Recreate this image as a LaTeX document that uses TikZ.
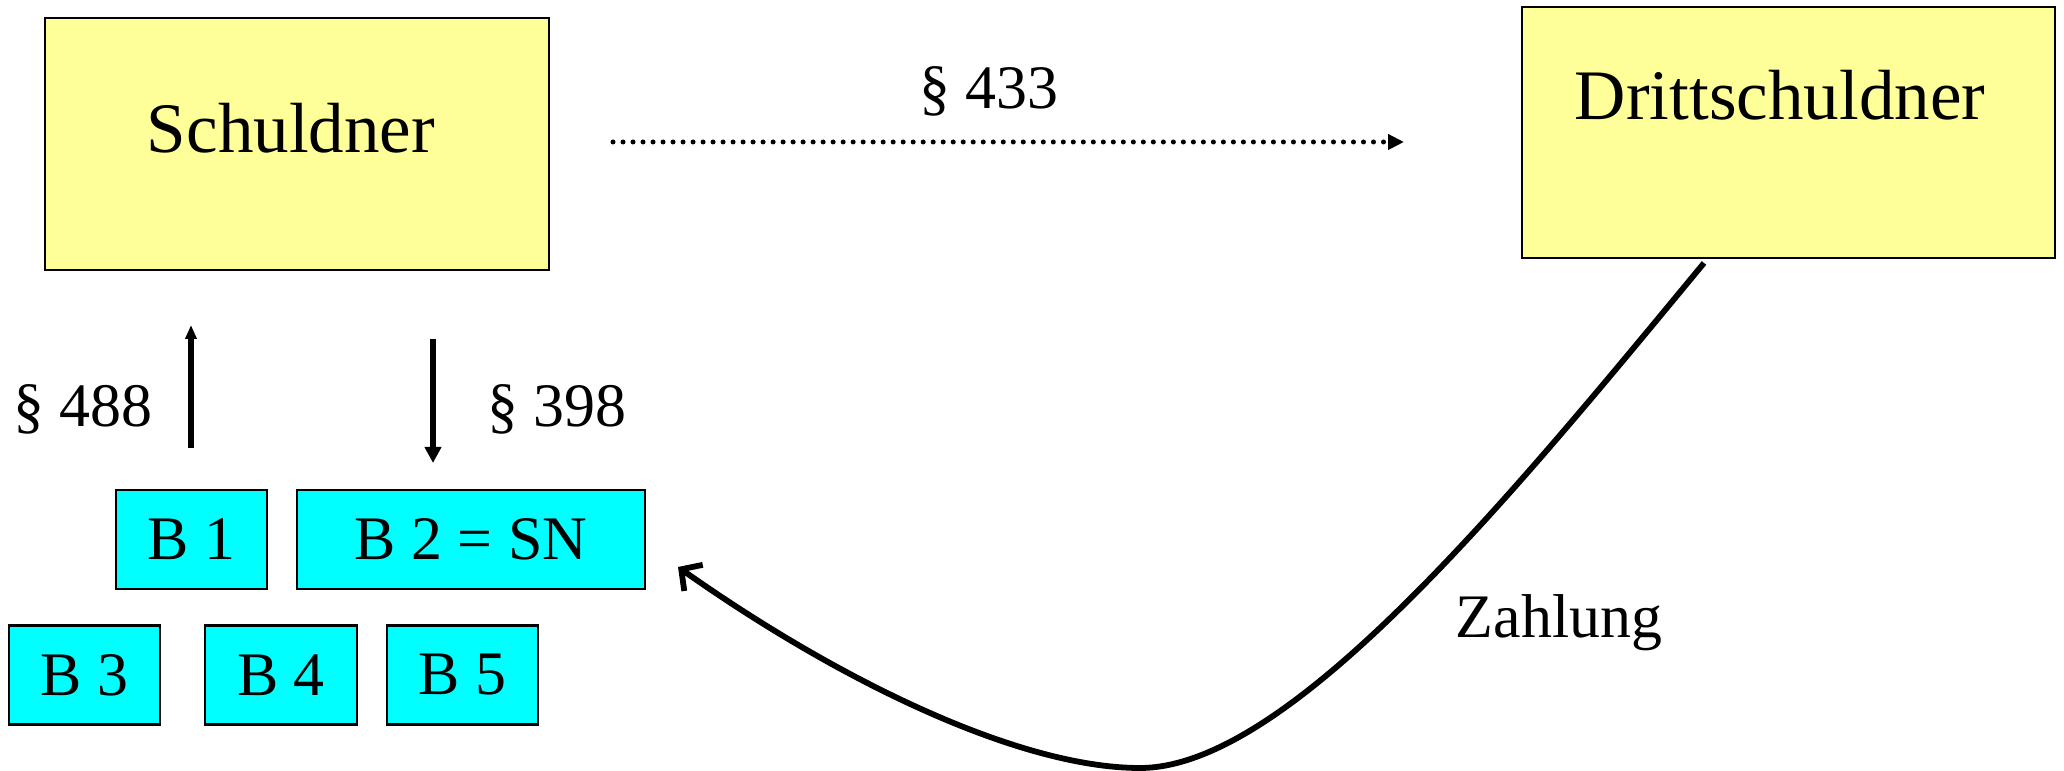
\documentclass[tikz,border=0pt]{standalone}
\usepackage{fontspec}
\setmainfont{Liberation Serif}
\usetikzlibrary{arrows.meta}
\definecolor{boxyellow}{HTML}{FFFF99}
\definecolor{boxcyan}{HTML}{00FFFF}
\begin{document}
\begin{tikzpicture}[x=0.01cm,y=-0.01cm,
  ybox/.style={draw=black, line width=0.022cm, fill=boxyellow, inner sep=0pt, outer sep=0pt},
  cbox/.style={draw=black, line width=0.022cm, fill=boxcyan, minimum height=0.99cm, inner sep=0pt, outer sep=0pt, font=\fontsize{17.6}{20}\selectfont},
  bigtext/.style={font=\fontsize{20.2}{24}\selectfont, inner sep=0pt},
  lbl/.style={font=\fontsize{17.6}{20}\selectfont, inner sep=0pt},
  conn/.style={line width=0.058cm}]
\useasboundingbox (0,0) rectangle (2064,771);
% yellow boxes
\node[ybox, minimum width=5.04cm, minimum height=2.52cm] (s) at (297,144) {};
\node[bigtext, anchor=base] (st) at (291,153) {Schuldner};
\node[ybox, minimum width=5.33cm, minimum height=2.51cm] (d) at (1788.5,132.5) {};
\node[bigtext, anchor=base] (dt) at (1780,120) {Drittschuldner};
% cyan boxes
\node[cbox, minimum width=1.51cm] (b1) at (191.5,539.5) {B 1};
\node[cbox, minimum width=3.48cm] (b2) at (471,539.5) {B 2 = SN};
\node[cbox, minimum width=1.51cm] (b3) at (84.5,675) {B 3};
\node[cbox, minimum width=1.52cm] (b4) at (281,675) {B 4};
\node[cbox, minimum width=1.51cm] (b5) at (462.5,675) {B 5};
% labels
\node[lbl, anchor=base] (l433) at (989,109) {§ 433};
\node[lbl, anchor=base] (l488) at (83,427) {§ 488};
\node[lbl, anchor=base] (l398) at (557,427) {§ 398};
\node[lbl, anchor=base] (lz) at (1559,638) {Zahlung};
% arrow end points
\coordinate (p1) at (613,142);
\coordinate (p2) at (1404,142);
\coordinate (u1) at (191,448);
\coordinate (u2) at (191,325);
\coordinate (v1) at (433,339);
\coordinate (v2) at (433,463);
\coordinate (c1) at (1704,263);
\coordinate (cb) at (1140,768);
\coordinate (c2) at (678,567);
% connectors
\draw[line width=0.05cm, line cap=round, dash pattern=on 0pt off 0.1cm,
  -{Triangle[length=0.16cm,width=0.15cm]}] (p1) -- (p2);
\draw[conn, -{Triangle[length=0.14cm,width=0.11cm]}] (u1) -- (u2);
\draw[conn, -{Triangle[length=0.16cm,width=0.16cm]}] (v1) -- (v2);
\draw[conn, -{Straight Barb[length=0.15cm,width=0.32cm]}] (c1)
  .. controls (1513,494) and (1290,768) .. (cb)
  .. controls (1020,768) and (841,682) .. (c2);
\end{tikzpicture}
\end{document}
